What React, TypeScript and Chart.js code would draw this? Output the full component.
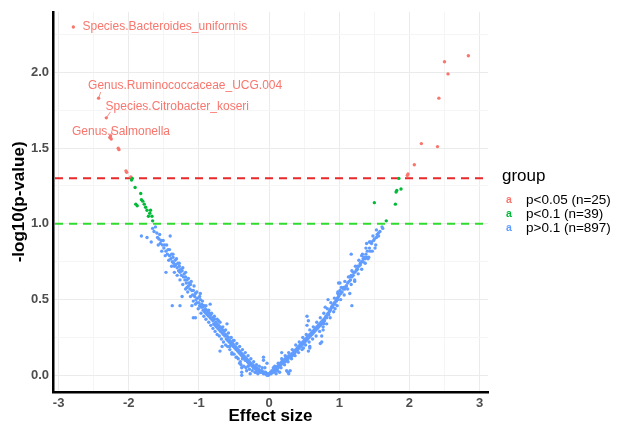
import React, { useEffect, useRef } from "react";
import { Chart, registerables } from "chart.js";

Chart.register(...registerables);

// ---- data ----
const groupNames = ["p<0.05 (n=25)", "p<0.1 (n=39)", "p>0.1 (n=897)"];
const groupColors = ["#F8766D", "#00BA38", "#619CFF"];

const thresholds = [1.30103, 1.0];
const thresholdColors = ["#E8282B", "#2EDB2E"];

const xTickValues = [-3, -2.5, -2, -1.5, -1, -0.5, 0, 0.5, 1, 1.5, 2, 2.5, 3];
const yTickValues = [0, 0.25, 0.5, 0.75, 1, 1.25, 1.5, 1.75, 2, 2.25];

const sigPoints: [number, number][] = [
  [-2.79, 2.3], [-2.43, 1.83], [-2.32, 1.7], [-2.26, 1.58], [-2.27, 1.57], [-2.25, 1.56],
  [-2.15, 1.5], [-2.14, 1.49], [-2.04, 1.35], [-2.03, 1.34], [-1.97, 1.31],
  [2.84, 2.11], [2.5, 2.07], [2.55, 1.99], [2.42, 1.83], [2.17, 1.53], [2.4, 1.51],
  [2.07, 1.39], [1.98, 1.33], [1.97, 1.32],
];

const marginalPoints: [number, number][] = [
  [-1.96, 1.29], [-1.95, 1.3], [-1.91, 1.24], [-1.83, 1.2], [-1.82, 1.16], [-1.8, 1.15],
  [-1.9, 1.13], [-1.88, 1.12], [-1.74, 1.09], [-1.7, 1.07], [-1.69, 1.09], [-1.67, 1.05],
  [-1.66, 1.02], [-1.72, 1.05], [-1.78, 1.13], [-1.76, 1.11],
  [1.5, 1.14], [1.8, 1.13], [1.81, 1.21], [1.82, 1.22], [1.88, 1.23], [1.67, 1.02], [1.85, 1.3],
];

const nsLeftBand: [number, number][] = [
  [-1.82, 0.92], [-1.74, 0.91], [-1.68, 0.88], [-1.66, 0.97], [-1.64, 0.95], [-1.62, 0.98],
  [-1.6, 0.94], [-1.59, 0.91], [-1.57, 0.9], [-1.55, 0.87], [-1.54, 0.89], [-1.52, 0.86],
  [-1.5, 0.84], [-1.49, 0.86], [-1.47, 0.82], [-1.45, 0.8], [-1.44, 0.83], [-1.42, 0.79],
  [-1.41, 0.92], [-1.4, 0.77], [-1.39, 0.8], [-1.38, 0.75], [-1.37, 0.78], [-1.36, 0.74],
  [-1.35, 0.72], [-1.34, 0.76], [-1.33, 0.73], [-1.31, 0.71], [-1.3, 0.74], [-1.29, 0.69],
  [-1.28, 0.72], [-1.27, 0.68], [-1.26, 0.7], [-1.25, 0.66], [-1.24, 0.69], [-1.22, 0.65],
  [-1.21, 0.67], [-1.2, 0.63], [-1.19, 0.65], [-1.18, 0.61], [-1.17, 0.63], [-1.15, 0.59],
  [-1.14, 0.61], [-1.13, 0.57], [-1.12, 0.6], [-1.1, 0.56], [-1.09, 0.53], [-1.08, 0.56],
  [-1.06, 0.52], [-1.05, 0.54], [-1.04, 0.5], [-1.03, 0.48], [-1.02, 0.51], [-1.0, 0.48],
  [-0.99, 0.46], [-0.98, 0.5], [-0.97, 0.45], [-0.96, 0.47], [-0.95, 0.45], [-0.94, 0.43],
  [-0.93, 0.46], [-0.92, 0.42], [-0.91, 0.44], [-0.9, 0.41], [-0.89, 0.43], [-0.88, 0.4],
  [-0.87, 0.42], [-0.86, 0.39], [-0.85, 0.41], [-0.84, 0.38], [-0.83, 0.4], [-0.82, 0.37],
  [-0.81, 0.38], [-0.8, 0.36], [-0.79, 0.34], [-0.78, 0.37], [-0.77, 0.33], [-0.76, 0.35],
  [-0.75, 0.32], [-0.74, 0.34], [-0.73, 0.31], [-0.72, 0.33], [-0.71, 0.3], [-0.7, 0.32],
  [-0.69, 0.29], [-0.68, 0.31], [-0.67, 0.28], [-0.66, 0.3], [-0.65, 0.27], [-0.64, 0.29],
  [-0.63, 0.26], [-0.62, 0.27], [-0.61, 0.24], [-0.6, 0.26], [-0.59, 0.23], [-0.58, 0.25],
  [-0.57, 0.22], [-0.56, 0.23], [-0.55, 0.21], [-0.54, 0.22], [-0.53, 0.2], [-0.52, 0.21],
  [-0.51, 0.19], [-0.5, 0.2], [-0.49, 0.18], [-0.48, 0.19], [-0.47, 0.17], [-0.46, 0.18],
  [-0.45, 0.16], [-0.44, 0.17], [-0.43, 0.15], [-0.42, 0.16], [-0.41, 0.14], [-0.4, 0.15],
  [-0.39, 0.13], [-0.38, 0.14], [-0.37, 0.12], [-0.36, 0.13], [-0.35, 0.11], [-0.34, 0.12],
  [-0.33, 0.1], [-0.32, 0.11], [-0.31, 0.09], [-0.3, 0.1], [-0.29, 0.08], [-0.28, 0.09],
  [-0.27, 0.07], [-0.26, 0.08], [-0.25, 0.07], [-0.24, 0.06], [-0.23, 0.07], [-0.22, 0.05],
  [-0.21, 0.06], [-0.2, 0.05], [-0.19, 0.04], [-0.18, 0.05], [-0.17, 0.04], [-0.16, 0.03],
  [-0.15, 0.04], [-0.14, 0.03], [-0.13, 0.02], [-0.12, 0.03], [-0.11, 0.02], [-0.1, 0.03],
  [-0.09, 0.02], [-0.08, 0.01], [-0.07, 0.02], [-0.06, 0.01], [-0.05, 0.02], [-0.04, 0.01],
  [-0.03, 0.0], [-0.02, 0.01], [-0.01, 0.0], [0.0, 0.01],
];

const nsLeftLower: [number, number][] = [
  [-1.58, 0.86], [-1.53, 0.82], [-1.48, 0.79], [-1.43, 0.76], [-1.39, 0.72], [-1.35, 0.68],
  [-1.31, 0.66], [-1.27, 0.63], [-1.23, 0.6], [-1.19, 0.57], [-1.16, 0.55], [-1.12, 0.52],
  [-1.08, 0.49], [-1.05, 0.47], [-1.01, 0.44], [-0.97, 0.41], [-0.93, 0.39], [-0.9, 0.37],
  [-0.86, 0.35], [-0.83, 0.33], [-0.8, 0.31], [-0.77, 0.29], [-0.74, 0.27], [-0.71, 0.26],
  [-0.68, 0.24], [-0.65, 0.22], [-0.62, 0.2], [-0.59, 0.19], [-0.56, 0.17], [-0.53, 0.15],
  [-0.5, 0.14], [-0.47, 0.12], [-0.44, 0.11], [-0.42, 0.08], [-0.36, 0.06], [-0.33, 0.05],
  [-0.28, 0.04], [-0.24, 0.03], [-0.2, 0.02], [-0.16, 0.01],
];

const nsLeftUpper: [number, number][] = [
  [-1.56, 0.93], [-1.51, 0.89], [-1.46, 0.86], [-1.42, 0.83], [-1.37, 0.8], [-1.32, 0.77],
  [-1.28, 0.74], [-1.23, 0.71], [-1.19, 0.68], [-1.15, 0.64], [-1.11, 0.62], [-1.07, 0.59],
  [-1.03, 0.55], [-0.99, 0.52], [-0.95, 0.49], [-0.9, 0.46], [-0.86, 0.43], [-0.82, 0.41],
  [-0.78, 0.39], [-0.74, 0.37], [-0.7, 0.35], [-0.66, 0.32], [-0.62, 0.3], [-0.58, 0.28],
  [-0.54, 0.25], [-0.5, 0.23], [-0.46, 0.21], [-0.42, 0.19], [-0.38, 0.17], [-0.34, 0.15],
  [-0.3, 0.13], [-0.26, 0.11], [-0.22, 0.09], [-0.18, 0.07], [-0.14, 0.06], [-0.1, 0.05],
];

const nsScatter: [number, number][] = [
  [-1.47, 0.68], [-1.38, 0.46], [-1.27, 0.46], [-1.24, 0.52], [-1.17, 0.58], [-1.1, 0.46],
  [-1.08, 0.38], [-1.05, 0.38], [-0.98, 0.54], [-0.94, 0.46], [-0.84, 0.47], [-0.79, 0.38],
  [-0.72, 0.36], [-0.7, 0.16], [-0.67, 0.19], [-0.6, 0.34], [-0.56, 0.19], [-0.53, 0.14],
  [-0.51, 0.23], [-0.46, 0.12], [-0.41, 0.09], [-0.39, 0.05], [-0.39, 0.02], [-0.39, 0.0],
  [-0.4, 0.07], [-0.38, 0.11], [-0.34, 0.1], [-0.32, 0.03], [-0.3, 0.06], [-0.27, 0.01],
  [-0.22, 0.05], [-0.19, 0.02], [-0.08, 0.12], [-0.08, 0.1], [-0.06, 0.05], [-0.03, 0.08],
  [0.06, 0.05], [0.1, 0.01], [0.15, 0.02], [0.18, 0.15], [0.23, 0.11], [0.25, 0.03],
  [0.27, 0.02], [0.3, 0.03], [0.28, 0.01], [0.49, 0.18], [0.54, 0.39], [0.56, 0.36],
  [0.54, 0.33], [0.58, 0.19], [0.56, 0.16], [0.58, 0.18], [0.73, 0.21], [0.75, 0.22],
  [0.75, 0.26], [0.77, 0.3], [0.78, 0.34], [0.8, 0.45], [0.87, 0.43], [0.84, 0.5],
  [0.94, 0.44], [0.96, 0.49], [0.98, 0.54], [0.99, 0.61], [1.01, 0.56], [1.01, 0.61],
  [1.06, 0.58], [1.08, 0.57], [1.1, 0.59], [1.15, 0.65], [1.15, 0.54], [1.17, 0.66],
  [1.17, 0.8], [1.18, 0.46], [1.2, 0.68], [1.22, 0.62], [1.25, 0.7], [1.26, 0.72],
  [1.3, 0.73], [1.32, 0.79], [1.34, 0.75], [1.37, 0.77], [1.39, 0.78], [1.41, 0.77],
  [1.39, 0.87], [1.44, 0.82], [1.44, 0.88], [1.46, 0.88], [1.49, 0.89], [1.51, 0.84],
  [1.53, 0.91], [1.56, 0.92], [1.56, 0.94], [1.61, 0.98], [1.62, 0.97],
];

const nsRightBand: [number, number][] = [
  [0.01, 0.01], [0.02, 0.02], [0.03, 0.01], [0.04, 0.03], [0.05, 0.02], [0.06, 0.03],
  [0.07, 0.02], [0.08, 0.04], [0.09, 0.03], [0.1, 0.05], [0.11, 0.04], [0.12, 0.06],
  [0.13, 0.05], [0.14, 0.07], [0.15, 0.06], [0.16, 0.08], [0.17, 0.07], [0.18, 0.09],
  [0.19, 0.08], [0.2, 0.1], [0.21, 0.09], [0.22, 0.1], [0.23, 0.09], [0.24, 0.11],
  [0.25, 0.1], [0.26, 0.12], [0.27, 0.11], [0.28, 0.13], [0.29, 0.12], [0.3, 0.13],
  [0.31, 0.12], [0.32, 0.14], [0.33, 0.13], [0.34, 0.15], [0.35, 0.14], [0.36, 0.16],
  [0.37, 0.15], [0.38, 0.17], [0.39, 0.16], [0.4, 0.18], [0.41, 0.17], [0.42, 0.19],
  [0.43, 0.18], [0.44, 0.2], [0.45, 0.19], [0.46, 0.21], [0.47, 0.2], [0.48, 0.22],
  [0.49, 0.21], [0.5, 0.23], [0.51, 0.22], [0.52, 0.24], [0.53, 0.23], [0.54, 0.25],
  [0.55, 0.24], [0.56, 0.26], [0.57, 0.25], [0.58, 0.27], [0.59, 0.26], [0.6, 0.28],
  [0.61, 0.27], [0.62, 0.29], [0.63, 0.28], [0.64, 0.3], [0.65, 0.29], [0.66, 0.31],
  [0.67, 0.3], [0.68, 0.32], [0.69, 0.31], [0.7, 0.33], [0.71, 0.32], [0.72, 0.34],
  [0.73, 0.33], [0.74, 0.35], [0.75, 0.34], [0.76, 0.36], [0.77, 0.35], [0.78, 0.37],
  [0.79, 0.36], [0.8, 0.38], [0.81, 0.39], [0.82, 0.38], [0.83, 0.4], [0.84, 0.41],
  [0.85, 0.4], [0.86, 0.42], [0.87, 0.43], [0.88, 0.44], [0.89, 0.45], [0.9, 0.46],
  [0.91, 0.45], [0.92, 0.47], [0.93, 0.48], [0.94, 0.47], [0.95, 0.49], [0.96, 0.5],
  [0.97, 0.51], [0.98, 0.5], [0.99, 0.52], [1.0, 0.53], [1.02, 0.54], [1.04, 0.55],
  [1.06, 0.57], [1.08, 0.58], [1.1, 0.59], [1.12, 0.61], [1.14, 0.62], [1.16, 0.63],
  [1.18, 0.65], [1.2, 0.66], [1.22, 0.68], [1.24, 0.69], [1.26, 0.7], [1.28, 0.72],
  [1.3, 0.74], [1.32, 0.75], [1.34, 0.77], [1.36, 0.78], [1.38, 0.8], [1.4, 0.82],
  [1.43, 0.84], [1.46, 0.87], [1.5, 0.9], [1.54, 0.93], [1.58, 0.95],
];

const nsRightLower: [number, number][] = [
  [0.12, 0.03], [0.17, 0.05], [0.22, 0.07], [0.27, 0.09], [0.32, 0.11], [0.37, 0.13],
  [0.42, 0.15], [0.47, 0.17], [0.52, 0.2], [0.57, 0.22], [0.62, 0.24], [0.67, 0.26],
  [0.72, 0.29], [0.77, 0.32], [0.82, 0.34], [0.87, 0.38], [0.92, 0.42], [0.97, 0.46],
  [1.02, 0.5], [1.07, 0.53], [1.12, 0.57], [1.17, 0.6], [1.22, 0.63], [1.27, 0.67],
  [1.32, 0.7], [1.37, 0.74], [1.42, 0.78], [1.47, 0.82], [1.52, 0.86],
];

const nsRightUpper: [number, number][] = [
  [0.08, 0.06], [0.13, 0.08], [0.18, 0.11], [0.23, 0.13], [0.28, 0.15], [0.33, 0.17],
  [0.38, 0.2], [0.43, 0.22], [0.48, 0.25], [0.53, 0.27], [0.58, 0.3], [0.63, 0.32],
  [0.68, 0.35], [0.73, 0.38], [0.78, 0.41], [0.83, 0.44], [0.88, 0.48], [0.93, 0.51],
  [0.98, 0.55], [1.03, 0.58], [1.08, 0.62], [1.13, 0.65], [1.18, 0.69], [1.23, 0.72],
  [1.28, 0.76], [1.33, 0.8], [1.38, 0.84], [1.43, 0.88], [1.48, 0.92], [1.53, 0.96],
];

const labelNames = [
  "Species.Bacteroides_uniformis",
  "Genus.Ruminococcaceae_UCG.004",
  "Species.Citrobacter_koseri",
  "Genus.Salmonella",
];
const labelPoints: [number, number][] = [[-2.79, 2.3], [-2.43, 1.83], [-2.32, 1.7], [-2.26, 1.58]];
const labelAnchors: [number, number][] = [[-2.66, 2.3], [-2.58, 1.91], [-2.33, 1.775], [-2.81, 1.61]];
const segmentEnds: ([number, number] | null)[] = [null, [-2.4, 1.87], [-2.26, 1.74], [-2.23, 1.63]];

const FONT = "'Liberation Sans', Arial, Helvetica, sans-serif";

const overlayPlugin = {
  id: "overlay",
  beforeDatasetsDraw(chart: any) {
    const { ctx, chartArea, scales } = chart;
    const y = scales.y;
    ctx.save();
    ctx.lineWidth = 2;
    ctx.setLineDash([8, 6]);
    thresholds.forEach((t, i) => {
      const py = y.getPixelForValue(t);
      ctx.strokeStyle = thresholdColors[i];
      ctx.beginPath();
      ctx.moveTo(chartArea.left + 2, py);
      ctx.lineTo(chartArea.right, py);
      ctx.stroke();
    });
    ctx.restore();
  },
  afterDatasetsDraw(chart: any) {
    const { ctx, scales } = chart;
    const { x, y } = scales;
    ctx.save();
    ctx.strokeStyle = groupColors[0];
    ctx.fillStyle = groupColors[0];
    ctx.lineWidth = 0.8;
    labelPoints.forEach((p, i) => {
      const e = segmentEnds[i];
      if (e) {
        ctx.beginPath();
        ctx.moveTo(x.getPixelForValue(p[0]), y.getPixelForValue(p[1]));
        ctx.lineTo(x.getPixelForValue(e[0]), y.getPixelForValue(e[1]));
        ctx.stroke();
      }
    });
    ctx.font = `12px ${FONT}`;
    ctx.textAlign = "left";
    ctx.textBaseline = "middle";
    labelNames.forEach((name, i) => {
      const a = labelAnchors[i];
      ctx.fillText(name, x.getPixelForValue(a[0]), y.getPixelForValue(a[1]));
    });
    ctx.restore();
  },
  afterDraw(chart: any) {
    const { ctx, chartArea } = chart;
    const lx = chartArea.right + 14;
    ctx.save();
    ctx.fillStyle = "#000";
    ctx.textAlign = "left";
    ctx.textBaseline = "middle";
    ctx.font = `17px ${FONT}`;
    ctx.fillText("group", lx, 176);
    groupNames.forEach((name, i) => {
      const cy = 200 + i * 14.2;
      ctx.fillStyle = groupColors[i];
      ctx.font = `bold 10.5px ${FONT}`;
      ctx.fillText("a", lx + 4, cy);
      ctx.fillStyle = "#000";
      ctx.font = `13.5px ${FONT}`;
      ctx.fillText(name, lx + 24, cy);
    });
    ctx.restore();
  },
};

export default function App() {
  const canvasRef = useRef<HTMLCanvasElement | null>(null);

  useEffect(() => {
    document.body.style.margin = "0";
    const canvas = canvasRef.current;
    if (!canvas) return;
    const toXY = (arr: [number, number][]) => arr.map(([a, b]) => ({ x: a, y: b }));
    const chart = new Chart(canvas, {
      type: "scatter",
      data: {
        datasets: [
          {
            label: groupNames[2],
            data: toXY([
              ...nsLeftBand, ...nsLeftLower, ...nsLeftUpper, ...nsScatter,
              ...nsRightBand, ...nsRightLower, ...nsRightUpper,
            ]),
            backgroundColor: groupColors[2],
            pointRadius: 1.7,
            borderWidth: 0,
          },
          {
            label: groupNames[1],
            data: toXY(marginalPoints),
            backgroundColor: groupColors[1],
            pointRadius: 1.7,
            borderWidth: 0,
          },
          {
            label: groupNames[0],
            data: toXY(sigPoints),
            backgroundColor: groupColors[0],
            pointRadius: 1.7,
            borderWidth: 0,
          },
        ],
      },
      options: {
        responsive: false,
        animation: false,
        events: [],
        layout: { padding: { left: 0, right: 134, top: 10, bottom: 0 } },
        plugins: { legend: { display: false }, tooltip: { enabled: false } },
        scales: {
          x: {
            type: "linear",
            min: -3.08,
            max: 3.12,
            afterFit: (s: any) => {
              s.height = 35;
            },
            afterBuildTicks: (s: any) => {
              s.ticks = xTickValues.map((v) => ({ value: v }));
            },
            ticks: {
              autoSkip: false,
              maxRotation: 0,
              padding: 4,
              color: "#4D4D4D",
              font: { family: FONT, size: 13, weight: "bold" },
              callback: (v: any) => (Number.isInteger(Number(v)) ? String(v) : ""),
            },
            grid: {
              drawTicks: false,
              color: (c: any) => (Number.isInteger(c.tick?.value) ? "#EBEBEB" : "#F5F5F5"),
              lineWidth: 1,
            },
            border: { display: true, color: "#000", width: 2.5 },
            title: {
              display: true,
              text: "Effect size",
              color: "#000",
              font: { family: FONT, size: 17, weight: "bold", lineHeight: 1.2 },
              padding: { top: 0, bottom: 0 },
            },
          },
          y: {
            type: "linear",
            min: -0.11,
            max: 2.4,
            afterFit: (s: any) => {
              s.width = 53;
            },
            afterBuildTicks: (s: any) => {
              s.ticks = yTickValues.map((v) => ({ value: v }));
            },
            ticks: {
              autoSkip: false,
              padding: 4,
              color: "#4D4D4D",
              font: { family: FONT, size: 13, weight: "bold" },
              callback: (v: any) => {
                const n = Number(v);
                return Math.abs(n * 2 - Math.round(n * 2)) < 1e-9 ? n.toFixed(1) : "";
              },
            },
            grid: {
              drawTicks: false,
              color: (c: any) => {
                const n = c.tick?.value ?? 0;
                return Math.abs(n * 2 - Math.round(n * 2)) < 1e-9 ? "#EBEBEB" : "#F5F5F5";
              },
              lineWidth: 1,
            },
            border: { display: true, color: "#000", width: 2.5 },
            title: {
              display: true,
              text: "-log10(p-value)",
              color: "#000",
              font: { family: FONT, size: 17, weight: "bold", lineHeight: 1.2 },
              padding: { top: 9, bottom: 0 },
            },
          },
        },
      },
      plugins: [overlayPlugin],
    });
    return () => chart.destroy();
  }, []);

  return <canvas ref={canvasRef} width={622} height={427} style={{ display: "block" }} />;
}
